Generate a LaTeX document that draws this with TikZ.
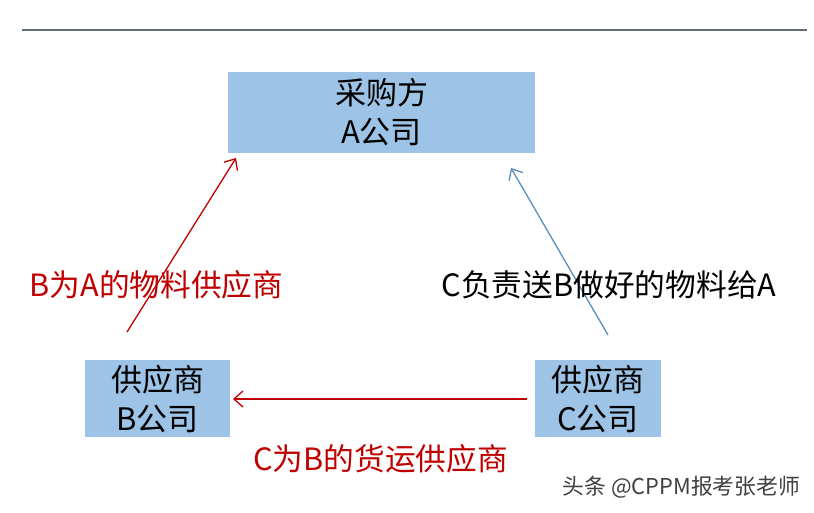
\documentclass[tikz,border=0pt]{standalone}
\usepackage{fontspec}
\setmainfont{Noto Sans CJK SC}
\usetikzlibrary{arrows.meta}
\definecolor{boxblue}{HTML}{9DC3E6}
\definecolor{darkred}{HTML}{C00000}
\definecolor{arrblue}{HTML}{5B8DBD}
\definecolor{rulecol}{HTML}{5F6E7A}
\tikzset{
  company/.style={fill=boxblue, draw=none, align=center, font=\fontsize{31}{39}\selectfont, inner sep=0pt},
  relarrow/.style={line width=1.3pt, -{Straight Barb[length=9pt,width=16pt,line width=1.3pt]}},
  lbl/.style={font=\fontsize{30.7}{34}\selectfont, inner sep=0pt},
}
\begin{document}
\begin{tikzpicture}[x=1pt,y=-1pt]
\useasboundingbox[fill=white] (0,0) rectangle (814,512);
\coordinate (ruleL) at (22,30);
\coordinate (ruleR) at (807,30);
\draw[rulecol, line width=1.3pt] (ruleL) -- (ruleR);

\node[company, minimum width=307pt, minimum height=81pt] (A) at (381.5,112.5) {采购方\\A公司};
\node[company, minimum width=145pt, minimum height=77pt] (B) at (157.5,398.5) {供应商\\B公司};
\node[company, minimum width=126pt, minimum height=77pt] (C) at (598,398.5) {供应商\\C公司};

\coordinate (rt) at (127,332);
\coordinate (rh) at (236,158);
\draw[relarrow, darkred] (rt) -- (rh);
\coordinate (bt) at (608,335);
\coordinate (bh) at (511,168);
\draw[relarrow, arrblue] (bt) -- (bh);
\coordinate (ht) at (527,399);
\coordinate (hh) at (233,399);
\draw[relarrow, darkred] (ht) -- (hh);

\node[lbl, text=darkred] (l1) at (156.5,285) {B为A的物料供应商};
\node[lbl, text=black] (l2) at (609,285) {C负责送B做好的物料给A};
\node[lbl, text=darkred] (l3) at (380.5,459) {C为B的货运供应商};
\node[font=\fontsize{21.8}{24}\selectfont, text=black!75, inner sep=0pt] (wm) at (681.5,487) {头条 @CPPM报考张老师};
\end{tikzpicture}
\end{document}
